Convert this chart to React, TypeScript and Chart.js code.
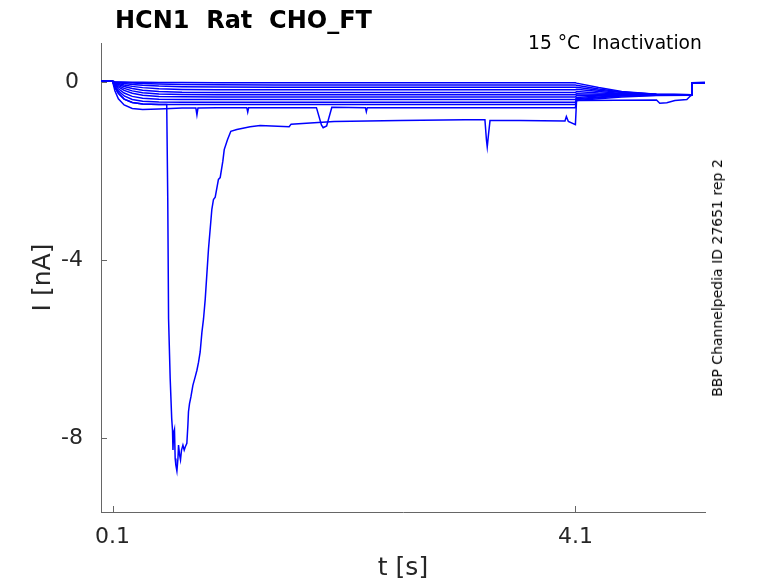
import React, { useEffect, useRef } from 'react';
import { Chart, registerables } from 'chart.js';

Chart.register(...registerables);

// Sweep times (s) shared by the family of inactivation sweeps
const sweepTimes = [0, 0.1, 0.12, 0.15, 0.2, 0.27, 0.36, 0.5, 0.7, 1.0, 1.5, 4.1, 4.11, 4.3, 4.5, 4.8, 5.105, 5.11, 5.22];

// Current (nA) for each sweep
const sweep0 = [0.01, 0.01, 0.0, -0.003, -0.006, -0.009, -0.012, -0.015, -0.017, -0.019, -0.02, -0.02, -0.03, -0.13, -0.22, -0.28, -0.29, -0.02, -0.02];
const sweep1 = [0.01, 0.01, -0.004, -0.011, -0.02, -0.03, -0.041, -0.052, -0.061, -0.067, -0.07, -0.07, -0.08, -0.16, -0.23, -0.28, -0.29, -0.03, -0.02];
const sweep2 = [0.01, 0.01, -0.009, -0.022, -0.04, -0.059, -0.078, -0.096, -0.109, -0.117, -0.12, -0.12, -0.12, -0.19, -0.24, -0.28, -0.29, -0.03, -0.02];
const sweep3 = [0.01, 0.01, -0.017, -0.04, -0.071, -0.103, -0.131, -0.156, -0.171, -0.178, -0.18, -0.18, -0.17, -0.22, -0.26, -0.285, -0.29, -0.03, -0.02];
const sweep4 = [0.01, 0.01, -0.027, -0.061, -0.107, -0.152, -0.188, -0.217, -0.233, -0.239, -0.24, -0.24, -0.22, -0.25, -0.27, -0.29, -0.29, -0.03, -0.02];
const sweep5 = [0.01, 0.01, -0.039, -0.087, -0.148, -0.204, -0.245, -0.273, -0.286, -0.29, -0.29, -0.29, -0.27, -0.28, -0.29, -0.29, -0.29, -0.03, -0.02];
const sweep6 = [0.01, 0.01, -0.052, -0.116, -0.192, -0.258, -0.301, -0.328, -0.338, -0.34, -0.34, -0.34, -0.31, -0.30, -0.295, -0.29, -0.29, -0.03, -0.02];
const sweep7 = [0.01, 0.01, -0.072, -0.157, -0.253, -0.327, -0.37, -0.393, -0.399, -0.4, -0.4, -0.4, -0.35, -0.32, -0.30, -0.29, -0.29, -0.03, -0.02];
const sweep8 = [0.01, 0.01, -0.097, -0.205, -0.318, -0.398, -0.438, -0.456, -0.46, -0.46, -0.46, -0.46, -0.38, -0.34, -0.31, -0.295, -0.29, -0.03, -0.02];
const sweep9 = [0.01, 0.01, -0.127, -0.26, -0.388, -0.465, -0.498, -0.508, -0.51, -0.51, -0.51, -0.51, -0.40, -0.36, -0.32, -0.30, -0.29, -0.03, -0.02];

// Lowest regular sweep, with its small glitches and the V-shaped dip
const sweep10Times = [
  0, 0.1, 0.12, 0.15, 0.2, 0.27, 0.36, 0.5, 0.7, 0.82, 0.829, 0.838, 1.0, 1.26, 1.268, 1.276, 1.5,
  1.862, 1.905, 1.92, 1.95, 1.995, 2.285, 2.293, 2.301, 3.0, 4.1, 4.11, 4.3, 4.5, 4.8, 5.105, 5.11, 5.22,
];
const sweep10 = [
  0.01, 0.01, -0.2, -0.38, -0.52, -0.6, -0.62, -0.61, -0.59, -0.59, -0.74, -0.59, -0.58, -0.58, -0.68, -0.58, -0.58,
  -0.58, -0.97, -1.03, -0.99, -0.57, -0.58, -0.67, -0.58, -0.58, -0.58, -0.42, -0.38, -0.34, -0.31, -0.30, -0.03, -0.02,
];

// The sweep with the large inward current
const bigTimes = [
  0, 0.1, 0.12, 0.15, 0.2, 0.27, 0.36, 0.5, 0.568, 0.577, 0.584, 0.598, 0.611, 0.618, 0.622, 0.627,
  0.635, 0.641, 0.647, 0.656, 0.665, 0.67, 0.679, 0.687, 0.696, 0.708, 0.719, 0.728, 0.742, 0.751,
  0.756, 0.765, 0.777, 0.794, 0.814, 0.829, 0.843, 0.857, 0.872, 0.886, 0.901, 0.929, 0.958, 0.972,
  0.987, 1.015, 1.03, 1.053, 1.065, 1.093, 1.122, 1.174, 1.289, 1.375, 1.626, 1.643, 1.842,
  2.015, 2.585, 3.146, 3.318, 3.331, 3.338, 3.349, 3.362, 3.621, 4.01, 4.022, 4.039,
  4.1, 4.11, 4.801, 4.829, 4.89, 4.96, 5.063, 5.093, 5.105, 5.11, 5.22,
];
const bigCurrent = [
  0.01, 0.01, -0.127, -0.26, -0.388, -0.465, -0.498, -0.508, -0.51, -2.64, -5.32, -6.66, -7.55, -7.82, -8.26, -7.89,
  -7.8, -8.45, -8.6, -8.73, -8.45, -8.15, -8.37, -8.48, -8.26, -8.15, -8.26, -8.19, -8.11, -7.7,
  -7.4, -7.22, -7.07, -6.81, -6.62, -6.47, -6.29, -6.06, -5.62, -5.32, -4.87, -3.75, -2.86, -2.64,
  -2.59, -2.19, -2.15, -1.78, -1.52, -1.3, -1.11, -1.07, -1.01, -0.98, -1.01, -0.95, -0.92,
  -0.89, -0.87, -0.85, -0.85, -1.3, -1.46, -1.18, -0.87, -0.87, -0.88, -0.78, -0.89,
  -0.96, -0.42, -0.41, -0.48, -0.47, -0.42, -0.4, -0.32, -0.3, -0.02, -0.01,
];

const xTicks = [0.1, 4.1];
const yTicks = [-8, -4, 0];

const FONT = 'DejaVu Sans';
const TRACE = '#0000ff';
const AXIS = '#666666';
const TEXT = '#262626';

const toPoints = (times: number[], values: number[]) => times.map((t, i) => ({ x: t, y: values[i] }));

// MATLAB-style ticks pointing into the plot
const inwardTicks = {
  id: 'inwardTicks',
  afterDatasetsDraw(chart: any) {
    const { ctx, chartArea, scales } = chart;
    ctx.save();
    ctx.strokeStyle = AXIS;
    ctx.lineWidth = 1;
    ctx.beginPath();
    xTicks.forEach((v) => {
      const px = Math.round(scales.x.getPixelForValue(v)) + 0.5;
      ctx.moveTo(px, chartArea.bottom);
      ctx.lineTo(px, chartArea.bottom - 6);
    });
    yTicks.forEach((v) => {
      const py = Math.round(scales.y.getPixelForValue(v)) + 0.5;
      ctx.moveTo(chartArea.left, py);
      ctx.lineTo(chartArea.left + 6, py);
    });
    ctx.stroke();
    ctx.restore();
  },
};

const App: React.FC = () => {
  const canvasRef = useRef<HTMLCanvasElement | null>(null);

  useEffect(() => {
    if (!canvasRef.current) return;
    const family = [sweep0, sweep1, sweep2, sweep3, sweep4, sweep5, sweep6, sweep7, sweep8, sweep9];
    const datasets = [
      ...family.map((vals, i) => ({ label: `sweep ${i + 1}`, data: toPoints(sweepTimes, vals) })),
      { label: 'sweep 11', data: toPoints(sweep10Times, sweep10) },
      { label: 'sweep 12', data: toPoints(bigTimes, bigCurrent) },
    ].map((d) => ({
      ...d,
      borderColor: TRACE,
      borderWidth: 1.5,
      pointRadius: 0,
      fill: false,
      tension: 0,
    }));

    const chart = new Chart(canvasRef.current, {
      type: 'line',
      data: { datasets },
      options: {
        responsive: false,
        animation: false,
        parsing: false,
        layout: { padding: { top: 43, right: 73, left: 0, bottom: 0 } },
        plugins: { legend: { display: false }, tooltip: { enabled: false }, title: { display: false } },
        scales: {
          x: {
            type: 'linear',
            min: 0,
            max: 5.22,
            afterBuildTicks: (s: any) => {
              s.ticks = xTicks.map((v) => ({ value: v }));
            },
            afterFit: (s: any) => {
              s.height = 71;
            },
            ticks: {
              autoSkip: false,
              maxRotation: 0,
              padding: 12,
              color: TEXT,
              font: { family: FONT, size: 22 },
              callback: (v: any) => String(v),
            },
            grid: { display: false, drawTicks: false },
            border: { display: true, color: AXIS, width: 1 },
            title: {
              display: true,
              text: 't [s]',
              color: TEXT,
              font: { family: FONT, size: 25 },
              padding: { top: 0, bottom: 0 },
            },
          },
          y: {
            type: 'linear',
            min: -9.65,
            max: 0.87,
            afterBuildTicks: (s: any) => {
              s.ticks = yTicks.map((v) => ({ value: v }));
            },
            afterFit: (s: any) => {
              s.width = 101;
            },
            ticks: {
              padding: 18,
              crossAlign: 'center',
              color: TEXT,
              font: { family: FONT, size: 22 },
              callback: (v: any) => String(v),
            },
            grid: { display: false, drawTicks: false },
            border: { display: true, color: AXIS, width: 1 },
            title: {
              display: true,
              text: 'I [nA]',
              color: TEXT,
              font: { family: FONT, size: 25 },
              padding: { top: 28, bottom: 0 },
            },
          },
        },
      },
      plugins: [inwardTicks],
    });

    return () => chart.destroy();
  }, []);

  return (
    <div style={{ position: 'fixed', left: 0, top: 0, width: 778, height: 583, background: '#fff' }}>
      <canvas ref={canvasRef} width={778} height={583} style={{ position: 'absolute', left: 0, top: 0 }} />
      <div
        style={{
          position: 'absolute', left: 115, top: 6, whiteSpace: 'pre', lineHeight: 1,
          font: `bold 24px "${FONT}"`, color: '#000',
        }}
      >
        {'HCN1  Rat  CHO_FT'}
      </div>
      <div
        style={{
          position: 'absolute', left: 528, top: 31.5, whiteSpace: 'pre', lineHeight: 1,
          font: `18.7px "${FONT}"`, color: '#000',
        }}
      >
        {'15 °C  Inactivation'}
      </div>
      <div
        style={{
          position: 'absolute', left: 717, top: 277.5, whiteSpace: 'pre', lineHeight: 1,
          font: `14px "${FONT}"`, color: '#000',
          transform: 'translate(-50%, -50%) rotate(-90deg)',
        }}
      >
        {'BBP Channelpedia ID 27651 rep 2'}
      </div>
    </div>
  );
};

export default App;
